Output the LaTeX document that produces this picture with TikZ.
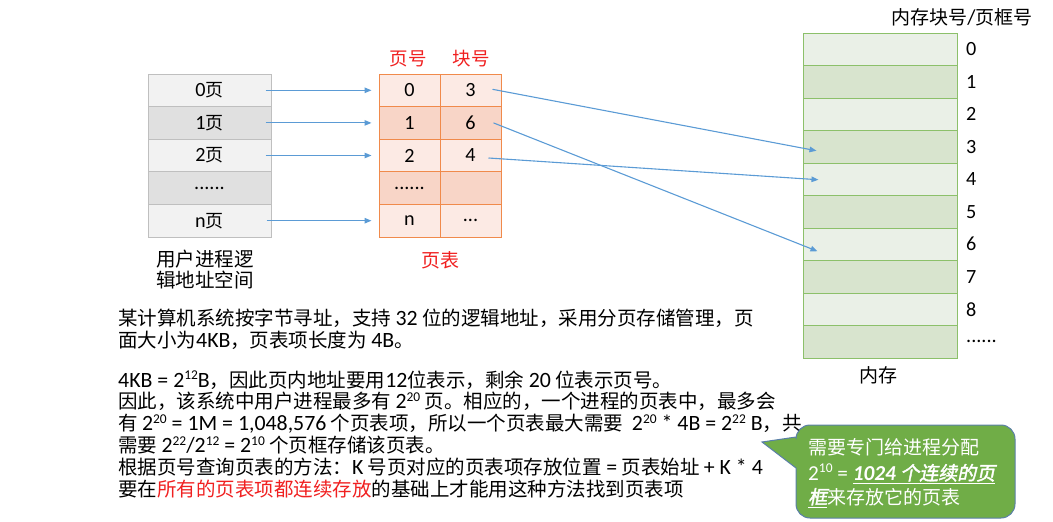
\documentclass[tikz,border=0pt]{standalone}
\usepackage{fontspec}
\setmainfont{Noto Sans CJK SC}
\newfontfamily\cjkbi{Noto Sans CJK SC}[FakeSlant=0.2, FakeBold=2]
\newfontfamily\latf{Carlito}[Scale=1.12]
\newcommand{\la}[1]{{\latf #1}}
\newcommand{\sups}[1]{\raisebox{0.33em}{\latf\fontsize{12}{12}\selectfont #1}}
\usetikzlibrary{arrows.meta}
\definecolor{arrowblue}{HTML}{5B9BD5}
\definecolor{lgray}{HTML}{F2F2F2}
\definecolor{dgray}{HTML}{E0E0E0}
\definecolor{bgray}{HTML}{BFBFBF}
\definecolor{lpink}{HTML}{FCEAE4}
\definecolor{dpink}{HTML}{F8D5C7}
\definecolor{borange}{HTML}{F08A4B}
\definecolor{lgreen}{HTML}{EAF0E7}
\definecolor{dgreen}{HTML}{D8E4CE}
\definecolor{bgreen}{HTML}{8CC06A}
\definecolor{redtxt}{HTML}{F02020}
\definecolor{callfill}{HTML}{70AD47}
\definecolor{calldraw}{HTML}{5A7FA8}
\tikzset{
  lcell/.style={draw=bgray, line width=1pt, minimum width=123pt, minimum height=32.6pt, inner sep=0pt, font=\fontsize{18}{20}\selectfont},
  pcell/.style={draw=borange, line width=1pt, minimum width=61pt, minimum height=32.6pt, inner sep=0pt, font=\fontsize{18}{20}\selectfont},
  mcell/.style={draw=bgreen, line width=1pt, minimum width=154pt, minimum height=32.5pt, inner sep=0pt},
  mlabel/.style={anchor=west, inner sep=0pt, font=\latf\fontsize{18}{20}\selectfont},
  txt/.style={anchor=base west, inner sep=0pt, text height=15pt, text depth=4pt, font=\fontsize{19.5}{22}\selectfont},
  ctxt/.style={anchor=base west, inner sep=0pt, text height=15pt, text depth=4pt, text=white, font=\fontsize{19}{22}\selectfont},
  conn/.style={draw=arrowblue, line width=1.1pt, -{Triangle[length=7pt,width=5.5pt]}},
}
\begin{document}
\begin{tikzpicture}[x=1pt,y=-1pt]
\useasboundingbox (0,0) rectangle (1053,522);

% logical address space
\node[lcell, fill=lgray] (L0) at (209.5,90.3) {\la{0}页};
\node[lcell, fill=dgray] (L1) at (209.5,122.9) {\la{1}页};
\node[lcell, fill=lgray] (L2) at (209.5,155.5) {\la{2}页};
\node[lcell, fill=dgray] (L3) at (209.5,188.1) {\la{......}};
\node[lcell, fill=lgray] (L4) at (209.5,220.7) {\la{n}页};
\node[font=\fontsize{19.5}{22}\selectfont, align=left, inner sep=0pt] (Lcap) at (205,270) {用户进程逻\\[-1pt]辑地址空间};

% page table
\node[pcell, fill=lpink] (P0) at (409.5,90.3) {\la{0}};
\node[pcell, fill=dpink] (P1) at (409.5,122.9) {\la{1}};
\node[pcell, fill=lpink] (P2) at (409.5,155.5) {\la{2}};
\node[pcell, fill=dpink] (P3) at (409.5,188.1) {\la{......}};
\node[pcell, fill=lpink] (P4) at (409.5,220.7) {\la{n}};
\node[pcell, fill=lpink] (B0) at (470.5,90.3) {\la{3}};
\node[pcell, fill=dpink] (B1) at (470.5,122.9) {\la{6}};
\node[pcell, fill=lpink] (B2) at (470.5,155.5) {\la{4}};
\node[pcell, fill=dpink] (B3) at (470.5,188.1) {};
\node[pcell, fill=lpink] (B4) at (470.5,220.7) {\la{...}};
\node[text=redtxt, font=\fontsize{18.5}{20}\selectfont, inner sep=0pt] (H1) at (408,59) {页号};
\node[text=redtxt, font=\fontsize{18.5}{20}\selectfont, inner sep=0pt] (H2) at (471,59) {块号};
\node[text=redtxt, font=\fontsize{19}{20}\selectfont, inner sep=0pt] (PT) at (440,260) {页表};

% memory
\foreach \i in {0,...,9}{
  \pgfmathsetmacro{\yy}{49.25+32.5*\i}
  \ifodd\i
    \node[mcell, fill=dgreen] (M\i) at (880,\yy) {};
  \else
    \node[mcell, fill=lgreen] (M\i) at (880,\yy) {};
  \fi
}
\foreach \i in {0,...,8}{
  \node[mlabel] (ML\i) at (966,{49.25+32.5*\i}) {\i};
}
\node[mlabel] (ML9) at (966,341.75) {......};
\node[font=\fontsize{19}{20}\selectfont, inner sep=0pt] (MT) at (962,17) {内存块号\la{/}页框号};
\node[font=\fontsize{19}{20}\selectfont, inner sep=0pt] (MC) at (878,375) {内存};

% arrows logical -> page table
\draw[conn] ([xshift=-6pt]L0.east) -- ([xshift=-7pt]P0.west);
\draw[conn] ([xshift=-6pt]L1.east) -- ([xshift=-7pt]P1.west);
\draw[conn] ([xshift=-6pt]L2.east) -- ([xshift=-7pt]P2.west);
\draw[conn] ([xshift=-5pt]L4.east) -- ([xshift=-7pt]P4.west);

% arrows page table -> memory
\draw[conn] ([xshift=-9pt,yshift=1pt]B0.east) -- ([xshift=14pt,yshift=-4pt]M3.west);
\draw[conn] ([xshift=-8pt]B1.east) -- ([xshift=15pt,yshift=-7pt]M6.west);
\draw[conn] ([xshift=-13pt,yshift=-2.5pt]B2.east) -- ([xshift=16pt,yshift=-0.5pt]M4.west);

% text block
\node[txt] (T1) at (118,325) {某计算机系统按字节寻址，支持 \la{32} 位的逻辑地址，采用分页存储管理，页};
\node[txt] (T2) at (118,347) {面大小为\la{4KB}，页表项长度为 \la{4B}。};
\node[txt] (T3) at (118,387) {\la{4KB = 2\sups{12}B}，因此页内地址要用\la{12}位表示，剩余 \la{20} 位表示页号。};
\node[txt] (T4) at (118,408.5) {因此，该系统中用户进程最多有 \la{2\sups{20}} 页。相应的，一个进程的页表中，最多会};
\node[txt] (T5) at (118,430.5) {有 \la{2\sups{20} = 1M = 1,048,576} 个页表项，所以一个页表最大需要\ \ \la{2\sups{20} * 4B = 2\sups{22} B}，共};
\node[txt] (T6) at (118,452.5) {需要 \la{2\sups{22}/2\sups{12} = 2\sups{10}} 个页框存储该页表。};
\node[txt] (T7) at (118,474.5) {根据页号查询页表的方法：\la{K} 号页对应的页表项存放位置 \la{=} 页表始址 \la{+ K * 4}};
\node[txt] (T8) at (118,496.5) {要在\textcolor{redtxt}{所有的页表项都连续存放}的基础上才能用这种方法找到页表项};

% callout
\filldraw[fill=callfill, draw=calldraw, line width=1pt]
  (762,442) -- (796,437) [rounded corners=14pt] -- (796,425) -- (1015,425) -- (1015,518) -- (796,518) [sharp corners] -- (796,468) -- cycle;
\node[ctxt] (C1) at (808,454) {需要专门给进程分配};
\node[ctxt] (C2) at (808,480) {\la{2\sups{10} = }\underline{{\latf\bfseries\itshape 1024} {\cjkbi 个连续的页}}};
\node[ctxt] (C3) at (808,504) {\underline{\cjkbi 框}来存放它的页表};
\end{tikzpicture}
\end{document}
